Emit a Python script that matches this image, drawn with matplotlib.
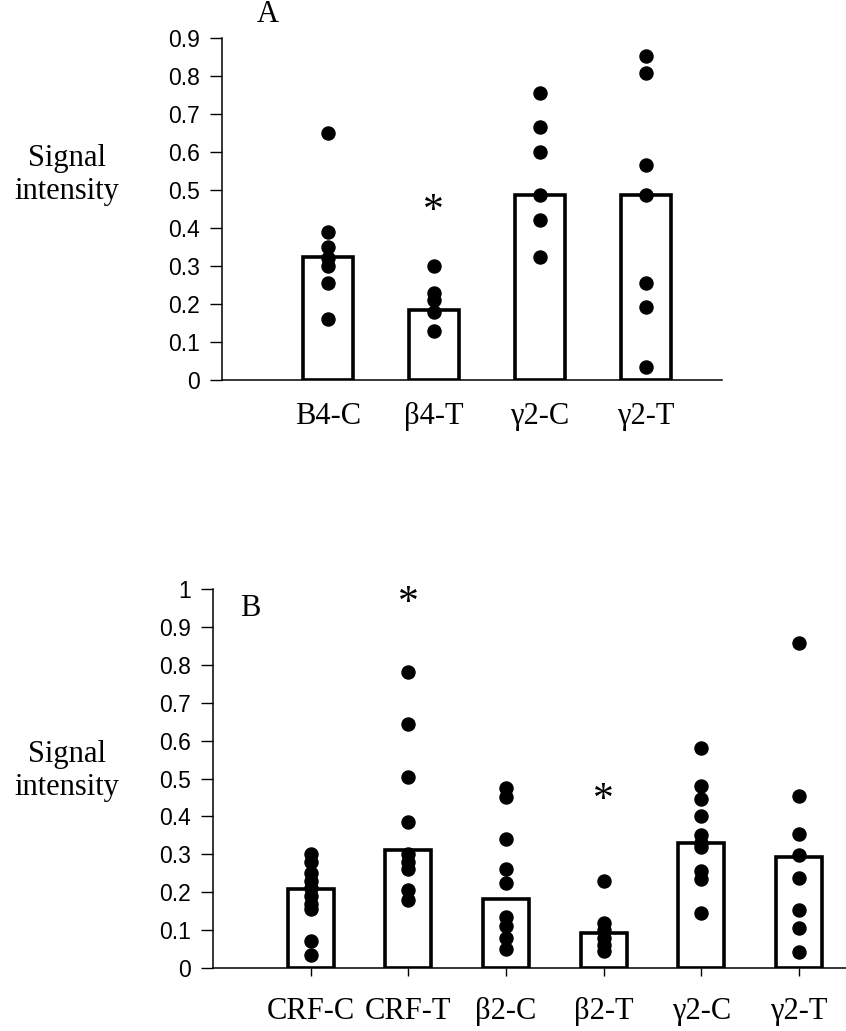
import matplotlib
matplotlib.use("Agg")
import matplotlib.pyplot as plt

# panel A
labels_a = ["B4-C", "β4-T", "γ2-C", "γ2-T"]
means_a = [0.324, 0.184, 0.487, 0.487]
points_a = [
    [0.65, 0.39, 0.35, 0.32, 0.30, 0.255, 0.16],
    [0.30, 0.23, 0.21, 0.18, 0.13],
    [0.755, 0.665, 0.60, 0.487, 0.42, 0.323],
    [0.853, 0.807, 0.567, 0.487, 0.255, 0.193, 0.035],
]
stars_a = {1: 0.46}

# panel B
labels_b = ["CRF-C", "CRF-T", "β2-C", "β2-T", "γ2-C", "γ2-T"]
means_b = [0.208, 0.311, 0.182, 0.092, 0.33, 0.293]
points_b = [
    [0.30, 0.28, 0.25, 0.23, 0.21, 0.19, 0.17, 0.155, 0.07, 0.035],
    [0.78, 0.645, 0.505, 0.385, 0.30, 0.28, 0.26, 0.205, 0.18],
    [0.475, 0.45, 0.34, 0.26, 0.225, 0.135, 0.11, 0.08, 0.05],
    [0.23, 0.12, 0.10, 0.08, 0.06, 0.045],
    [0.58, 0.48, 0.445, 0.40, 0.35, 0.33, 0.32, 0.255, 0.235, 0.145],
    [0.858, 0.454, 0.354, 0.298, 0.237, 0.153, 0.106, 0.042],
]
stars_b = {1: 0.98, 3: 0.46}

serif = "Liberation Serif"
sans = "Liberation Sans"

W, H = 846, 1031
fig = plt.figure(figsize=(W / 100, H / 100), dpi=100)


def panel(rect, labels, means, points, stars, ymax, xmax, letter, letter_xy, xticks_on, lab_pad):
    ax = fig.add_axes(rect)
    x = list(range(1, len(labels) + 1))
    ax.bar(x, means, width=0.47, color="white", edgecolor="black", linewidth=2.6, zorder=2)
    for xi, pts in zip(x, points):
        ax.plot([xi] * len(pts), pts, "o", color="black", markersize=9.4, zorder=3, clip_on=False)
    for i, v in stars.items():
        # asterisk sits high in its glyph box, so drop it a little
        ax.text(x[i], v - 0.018, "*", fontsize=30, family=serif, ha="center", va="center")
    ax.set_xlim(0, xmax)
    ax.set_ylim(0, ymax)
    ax.set_xticks(x)
    ax.set_xticklabels(labels, fontsize=22, family=serif)
    ax.tick_params(axis="x", length=6 if xticks_on else 0, width=1, pad=lab_pad, direction="out")
    n = int(round(ymax * 10))
    ax.set_yticks([k / 10 for k in range(n + 1)])
    ax.set_yticklabels(["0" if k == 0 else ("1" if k == 10 else "0.%d" % k)
                        for k in range(n + 1)], fontsize=16.5, family=sans)
    ax.tick_params(axis="y", length=9, width=1, pad=7, direction="out")
    for s in ["top", "right"]:
        ax.spines[s].set_visible(False)
    ax.spines["left"].set_linewidth(1.1)
    ax.spines["bottom"].set_linewidth(1.1)
    fig.text(letter_xy[0] / W, 1 - letter_xy[1] / H, letter, fontsize=22, family=serif,
             ha="center", va="center")
    return ax


panel([222 / W, 1 - 380 / H, 500 / W, 342 / H], labels_a, means_a, points_a, stars_a,
      0.9, 4.72, "A", (268, 15), False, 16)
fig.text(67 / W, 1 - 175 / H, "Signal\nintensity", fontsize=22, family=serif,
         ha="center", va="center", linespacing=1.2)

panel([213 / W, 1 - 968 / H, 633 / W, 379 / H], labels_b, means_b, points_b, stars_b,
      1.0, 6.48, "B", (250, 608), True, 15)
fig.text(67 / W, 1 - 771 / H, "Signal\nintensity", fontsize=22, family=serif,
         ha="center", va="center", linespacing=1.2)

fig.savefig("out.png", dpi=100)
